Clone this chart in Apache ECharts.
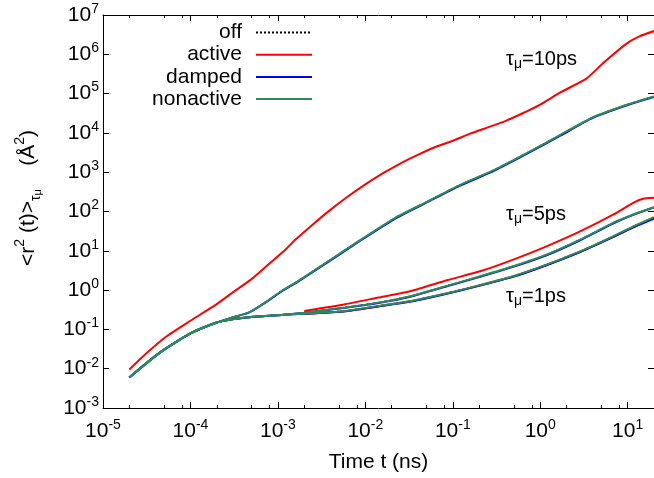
<!DOCTYPE html>
<html><head><meta charset="utf-8">
<script src="https://cdn.jsdelivr.net/npm/echarts@6/dist/echarts.min.js"></script>
<style>html,body{margin:0;padding:0;background:#fff}#c{width:654px;height:478px}</style>
</head><body><div id="c"></div>
<script>
// ---- data ----
const t10Active = [2e-5, 3.16e-5, 5.3e-5, 1e-4, 2e-4, 3e-4, 5e-4, 7.9e-4, 1.26e-3, 1.58e-3, 2.51e-3, 3.98e-3, 6.31e-3, 0.01, 0.0158, 0.0251, 0.0398, 0.0631, 0.1, 0.158, 0.251, 0.398, 0.631, 1, 1.7, 3.4, 5.25, 9.8, 13.8, 20];
const r10Active = [0.0095, 0.025, 0.066, 0.166, 0.44, 0.85, 1.9, 4.6, 11.5, 19, 47, 110, 240, 490, 930, 1660, 2750, 4370, 6300, 9550, 13800, 20000, 31600, 52500, 107000, 245000, 600000, 1.9e6, 2.9e6, 3.9e6];

const t10 = [2e-5, 4.5e-5, 1e-4, 2e-4, 3e-4, 4.7e-4, 7.5e-4, 1.1e-3, 1.7e-3, 3.8e-3, 9e-3, 0.022, 0.052, 0.12, 0.3, 0.7, 1.7, 4, 10, 20];
const r10Nonactive = [0.0060, 0.026, 0.079, 0.15, 0.20, 0.27, 0.52, 0.95, 1.7, 5.5, 19.5, 69, 182, 470, 1150, 3050, 8900, 25000, 53000, 85000];
const r10Damped = [0.0060, 0.026, 0.079, 0.15, 0.20, 0.27, 0.51, 0.92, 1.65, 5.3, 18.8, 66, 175, 450, 1100, 2920, 8500, 24000, 51000, 82000];

const tLow = [2e-5, 4.5e-5, 1e-4, 2e-4, 3e-4, 4.7e-4, 7.2e-4, 1.1e-3, 2e-3, 5.9e-3, 0.0141, 0.0336, 0.0877, 0.21, 0.5, 1.2, 2.9, 6.9, 11.6, 20];
const r5Nonactive = [0.0060, 0.026, 0.079, 0.15, 0.18, 0.204, 0.219, 0.234, 0.266, 0.36, 0.48, 0.71, 1.30, 2.28, 4.1, 8.1, 19.5, 52, 84, 129];
const r5Damped = [0.0060, 0.026, 0.079, 0.15, 0.18, 0.204, 0.219, 0.234, 0.264, 0.355, 0.47, 0.69, 1.27, 2.2, 3.95, 7.8, 18.8, 50, 82, 126];
const r1Nonactive = [0.0060, 0.026, 0.079, 0.15, 0.18, 0.204, 0.219, 0.234, 0.251, 0.295, 0.394, 0.53, 0.84, 1.36, 2.28, 4.5, 9.8, 23.6, 41.7, 72];
const r1Damped = [0.0060, 0.026, 0.079, 0.15, 0.18, 0.204, 0.219, 0.234, 0.249, 0.29, 0.385, 0.515, 0.82, 1.32, 2.2, 4.35, 9.4, 22.5, 39.5, 66];

const tAct = [2e-3, 5.9e-3, 0.0141, 0.0336, 0.0877, 0.21, 0.5, 1.2, 2.9, 6.9, 11.6, 15, 20];
const r5Active = [0.295, 0.437, 0.646, 0.95, 1.80, 3.05, 6.05, 13.2, 31.6, 84, 166, 210, 224];
const r1Active = [0.25, 0.29, 0.39, 0.525, 0.83, 1.34, 2.25, 4.4, 9.6, 23, 40, 52, 69];

const legendNames = ['off', 'active', 'damped', 'nonactive'];
const xMajorTicks = [1e-5, 1e-4, 1e-3, 1e-2, 1e-1, 1, 10];
const xMinorTicks = [2e-5, 5e-5, 8e-5, 2e-4, 5e-4, 8e-4, 2e-3, 5e-3, 8e-3, 2e-2, 5e-2, 8e-2, 0.2, 0.5, 0.8, 2, 5, 8];
const yMajorTicks = [1e-3, 1e-2, 1e-1, 1, 10, 100, 1e3, 1e4, 1e5, 1e6, 1e7];
const tauLabels = ['10ps', '5ps', '1ps'];

// ---- chart ----
const FONT = 'Liberation Sans';
const COL = { off: '#000000', active: '#ff0000', damped: '#0000ff', nonactive: '#2e8b57' };
const zip = (t, r) => t.map((v, i) => [v, r[i]]);
const tickFmt = v => '{b|10}{s|' + Math.round(Math.log10(v)) + '}';
const tickRich = {
  b: { fontSize: 21, lineHeight: 26, fontFamily: FONT, color: '#000' },
  s: { fontSize: 14, lineHeight: 12, verticalAlign: 'top', fontFamily: FONT, color: '#000' }
};

function line(name, t, r, width, z) {
  return {
    type: 'line', name, data: zip(t, r), xAxisIndex: 0, yAxisIndex: 0,
    symbol: 'none', showSymbol: false, smooth: 0.2, z,
    lineStyle: { color: COL[name], width, type: name === 'off' ? 'dotted' : 'solid' },
    itemStyle: { color: COL[name] },
    emphasis: { disabled: true }, silent: true
  };
}

const series = [
  line('off', t10, r10Nonactive, 1.5, 1),
  line('off', tLow, r5Nonactive, 1.5, 1),
  line('off', tLow, r1Nonactive, 1.5, 1),
  line('active', t10Active, r10Active, 2, 2),
  line('active', tAct, r5Active, 2, 2),
  line('active', tAct, r1Active, 2, 2),
  line('damped', t10, r10Damped, 2, 3),
  line('damped', tLow, r5Damped, 2, 3),
  line('damped', tLow, r1Damped, 2, 3),
  line('nonactive', t10, r10Nonactive, 2, 4),
  line('nonactive', tLow, r5Nonactive, 2, 4),
  line('nonactive', tLow, r1Nonactive, 2, 4)
];

const axLine = { show: true, lineStyle: { color: '#000', width: 1 } };
const tauRich = {
  a: { fontSize: 20, lineHeight: 24, fontFamily: FONT, fill: '#000' },
  s: { fontSize: 14, lineHeight: 14, verticalAlign: 'bottom', fontFamily: FONT, fill: '#000' }
};
const tauPos = [[506, 59], [506, 214], [506, 296]];

const option = {
  animation: false,
  backgroundColor: '#fff',
  grid: { left: 103, right: -1, top: 15, bottom: 69, containLabel: false },
  xAxis: [
    { type: 'log', min: 1e-5, max: 20, position: 'bottom', axisLine: axLine,
      axisTick: { inside: true, length: 6, customValues: xMajorTicks, lineStyle: { color: '#000' } },
      axisLabel: { customValues: xMajorTicks, formatter: tickFmt, rich: tickRich, margin: 10, hideOverlap: false, showMinLabel: true, showMaxLabel: true },
      splitLine: { show: false }, minorTick: { show: false },
      name: 'Time t (ns)', nameLocation: 'middle', nameGap: 44,
      nameTextStyle: { fontSize: 21, fontFamily: FONT, color: '#000' } },
    { type: 'log', min: 1e-5, max: 20, position: 'bottom', axisLine: { show: false },
      axisTick: { inside: true, length: 3, customValues: xMinorTicks, lineStyle: { color: '#000' } },
      axisLabel: { show: false }, splitLine: { show: false } },
    { type: 'log', min: 1e-5, max: 20, position: 'top', axisLine: axLine,
      axisTick: { inside: true, length: 6, customValues: xMajorTicks, lineStyle: { color: '#000' } },
      axisLabel: { show: false }, splitLine: { show: false } },
    { type: 'log', min: 1e-5, max: 20, position: 'top', axisLine: { show: false },
      axisTick: { inside: true, length: 3, customValues: xMinorTicks, lineStyle: { color: '#000' } },
      axisLabel: { show: false }, splitLine: { show: false } }
  ],
  yAxis: [
    { type: 'log', min: 1e-3, max: 1e7, position: 'left', axisLine: axLine,
      axisTick: { inside: true, length: 6, customValues: yMajorTicks, lineStyle: { color: '#000' } },
      axisLabel: { customValues: yMajorTicks, formatter: tickFmt, rich: tickRich, margin: 4, hideOverlap: false, showMinLabel: true, showMaxLabel: true },
      splitLine: { show: false } },
    { type: 'log', min: 1e-3, max: 1e7, position: 'right', axisLine: axLine,
      axisTick: { inside: true, length: 6, customValues: yMajorTicks, lineStyle: { color: '#000' } },
      axisLabel: { show: false }, splitLine: { show: false } }
  ],
  legend: {
    data: legendNames, orient: 'vertical', align: 'right', right: 341, top: 22,
    itemWidth: 56, itemHeight: 10, itemGap: 1.2, padding: 0, selectedMode: false,
    itemStyle: { opacity: 0 },
    textStyle: { fontSize: 21, fontFamily: FONT, color: '#000', lineHeight: 20, padding: [0, 9, 0, 0] }
  },
  graphic: tauLabels.map((lab, i) => ({
    type: 'text', x: tauPos[i][0], y: tauPos[i][1], silent: true,
    style: { text: '{a|τ}{s|μ}{a|=' + lab + '}', rich: tauRich, align: 'left', verticalAlign: 'middle' }
  })).concat([{
    type: 'text', x: 28, y: 198, rotation: Math.PI / 2, silent: true,
    style: {
      text: '{n|<r}{p|2}{n| (t)>}{b|τ}{c|μ}{n|    (Å}{p|2}{n|)}',
      align: 'center', verticalAlign: 'middle',
      rich: {
        n: { fontSize: 21, lineHeight: 30, fontFamily: FONT, fill: '#000' },
        p: { fontSize: 14, lineHeight: 14, verticalAlign: 'top', fontFamily: FONT, fill: '#000' },
        b: { fontSize: 14, lineHeight: 18, verticalAlign: 'bottom', fontFamily: FONT, fill: '#000' },
        c: { fontSize: 11, lineHeight: 11, verticalAlign: 'bottom', fontFamily: FONT, fill: '#000' }
      }
    }
  }]),
  series
};

const chart = echarts.init(document.getElementById('c'), null, { renderer: 'canvas' });
chart.setOption(option);
</script>
</body></html>
